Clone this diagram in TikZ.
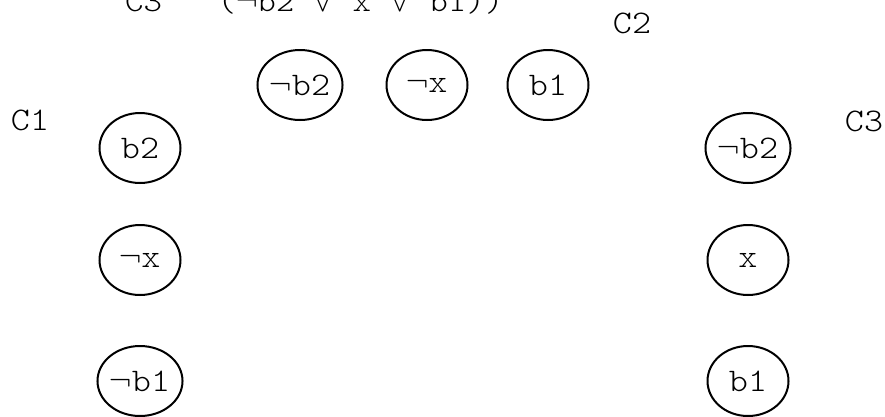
\documentclass[tikz,border=0pt]{standalone}
\usepackage{fontspec}
\usepackage{unicode-math}
\setmathfont{Latin Modern Math}
\setmonofont{lmmonolt10-regular}[Extension=.otf, FakeStretch=1.1]
\usepackage{tikz}
\usetikzlibrary{shapes.geometric}

\begin{document}
\begin{tikzpicture}[
  x=1pt, y=-1pt,
  font=\ttfamily\fontsize{33}{36}\selectfont,
  lit/.style    ={ellipse, draw, line width=2pt, inner sep=0pt,
                  minimum width=81pt, minimum height=70pt},
  clause/.style ={inner sep=0pt},
]
\useasboundingbox (0,0) rectangle (885,416);

\def\cL{140}
\def\cR{748}
\def\rT{85}
\def\rA{148}
\def\rB{260}
\def\rC{381}

% ---------- formula (cut at the top) ----------
\node[clause, anchor=base west, font=\ttfamily\fontsize{32}{35}\selectfont]
  (formula) at (125,11) {C3~~~($\neg$b2 $\vee$ x $\vee$ b1))};

% ---------- clause C1 (left) ----------
\node[clause] (lblC1) at (30,120) {C1};
\node[lit] (c1b2)  at (\cL,\rA) {b2};
\node[lit] (c1nx)  at (\cL,\rB) {$\neg$x};
\node[lit] (c1nb1) at (\cL,\rC) {$\neg$b1};

% ---------- clause C2 (top) ----------
\node[clause] (lblC2) at (632,23) {C2};
\node[lit] (c2nb2) at (300,\rT) {$\neg$b2};
\node[lit] (c2nx)  at (427,\rT) {$\neg$x};
\node[lit] (c2b1)  at (548,\rT) {b1};

% ---------- clause C3 (right) ----------
\node[clause] (lblC3) at (864,121) {C3};
\node[lit] (c3nb2) at (\cR,\rA) {$\neg$b2};
\node[lit] (c3x)   at (\cR,\rB) {x};
\node[lit] (c3b1)  at (\cR,\rC) {b1};

\end{tikzpicture}
\end{document}
